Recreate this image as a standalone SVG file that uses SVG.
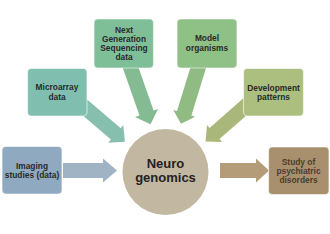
<svg xmlns="http://www.w3.org/2000/svg" width="330" height="234" viewBox="0 0 330 234">
<style>
.box{stroke:#ffffff;stroke-opacity:0.55;stroke-width:1.2}
.t{font-family:"Liberation Sans",Arial,sans-serif;font-weight:bold;font-size:8.4px;text-anchor:middle;fill:#2a2a2a}
.big{font-size:13px;fill:#222}
</style>
<rect width="330" height="234" fill="#ffffff"/>
<g id="connectors">
<polygon fill="#9fb3c4" points="63,163 103,163 103,158.5 117,170.5 103,182.5 103,178 63,178"/>
<polygon fill="#86bfae" points="86.5,98.9 120.7,128.2 123.3,125 124.9,141.7 108.3,142.7 110.9,139.6 76.7,110.3"/>
<polygon fill="#84bb92" points="136.4,61.6 153.6,110.5 158,109 150.5,124.3 135,117 139.5,115.5 122.3,66.6"/>
<polygon fill="#90bb82" points="192.3,61.4 206.7,65.8 191.4,115.5 195.1,116.7 181,123.8 173.3,109.9 177,111.1"/>
<polygon fill="#a9b87a" points="243.3,98.2 253.2,109.4 219.5,139.1 222,142 205.5,141.4 207,125 209.6,127.9"/>
<polygon fill="#b49c79" points="220,163 256,163 256,158.5 269,170.5 256,182.5 256,178 220,178"/>
</g>
<g id="imaging">
<rect class="box" x="2" y="146.5" width="60" height="47.5" rx="4" fill="#8fa9c0"/>
<text class="t" x="32" y="169">Imaging</text>
<text class="t" x="32" y="178">studies (data)</text>
</g>
<g id="microarray">
<rect class="box" x="27.5" y="68.5" width="59.5" height="47.5" rx="4" fill="#80bfb0"/>
<text class="t" x="57" y="90">Microarray</text>
<text class="t" x="57" y="100">data</text>
</g>
<g id="ngs">
<rect class="box" x="94" y="19" width="59.5" height="49" rx="4" fill="#7fbf97"/>
<text class="t" x="124" y="33">Next</text>
<text class="t" x="124" y="42">Generation</text>
<text class="t" x="124" y="51">Sequencing</text>
<text class="t" x="124" y="60">data</text>
</g>
<g id="model">
<rect class="box" x="177" y="19" width="60" height="49" rx="4" fill="#8fc086"/>
<text class="t" x="207" y="41">Model</text>
<text class="t" x="207" y="51">organisms</text>
</g>
<g id="development">
<rect class="box" x="243.5" y="68.5" width="60" height="47.5" rx="4" fill="#adbf7f"/>
<text class="t" x="273.5" y="91">Development</text>
<text class="t" x="273.5" y="100">patterns</text>
</g>
<g id="neurogenomics">
<circle cx="165.5" cy="172" r="43" fill="#c2b7a0"/>
<text class="t big" x="165.5" y="168">Neuro</text>
<text class="t big" x="165.5" y="182">genomics</text>
</g>
<g id="study">
<rect class="box" x="268.5" y="147" width="60.5" height="47.5" rx="4" fill="#a8906f"/>
<text class="t" x="298.5" y="165" style="fill:#4a3d2e">Study of</text>
<text class="t" x="298.5" y="174" style="fill:#4a3d2e">psychiatric</text>
<text class="t" x="298.5" y="183" style="fill:#4a3d2e">disorders</text>
</g>
</svg>
